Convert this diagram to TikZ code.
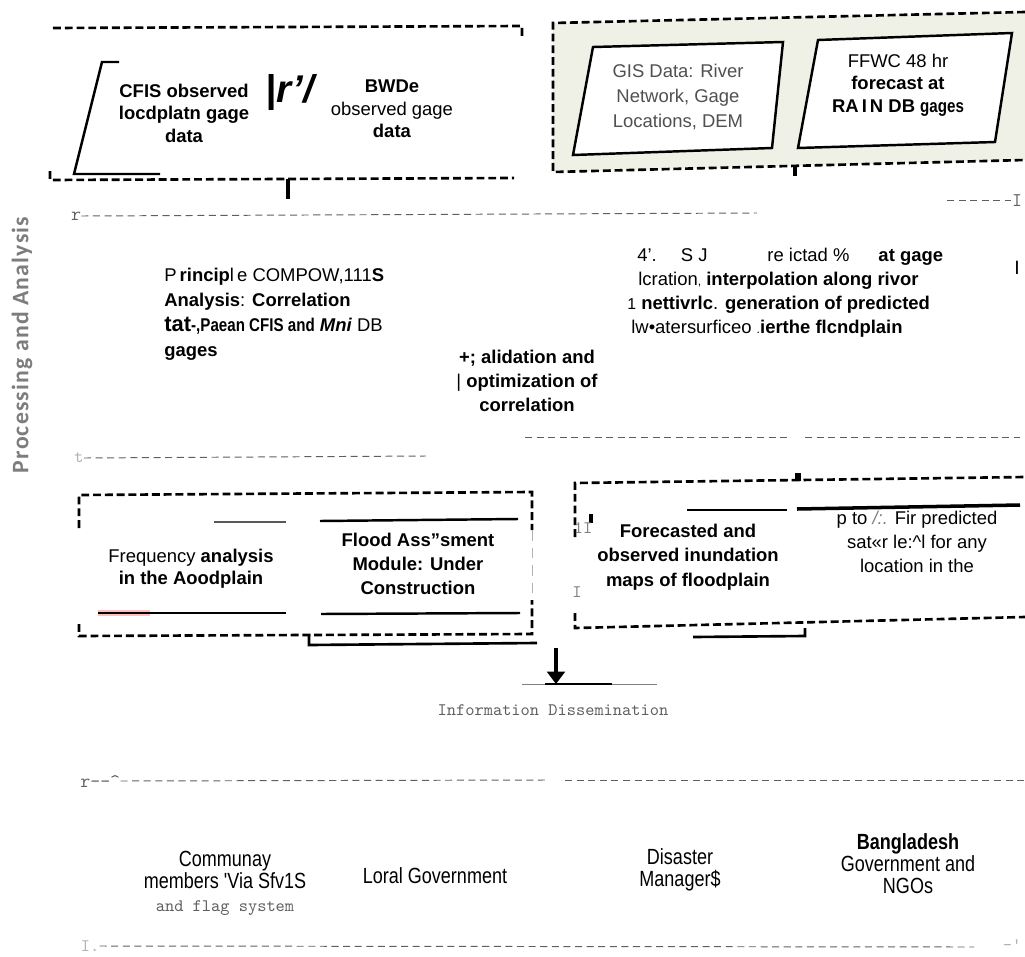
\documentclass[tikz,border=0pt]{standalone}
\usepackage{fontspec}
\setmainfont{Liberation Sans}
\newfontfamily\narrowsf[FakeStretch=0.82]{Liberation Sans}
\newfontfamily\labelsf[LetterSpace=5]{Carlito}
\usetikzlibrary{positioning,calc,arrows.meta}

\definecolor{gisbg}{RGB}{240,241,230}
\definecolor{gistext}{RGB}{80,80,80}
\definecolor{typegray}{RGB}{95,95,95}
\definecolor{sidegray}{RGB}{125,125,125}

\begin{document}
\begin{tikzpicture}[x=0.02cm, y=-0.02cm,
    grpdash/.style={line width=1.5pt, dash pattern=on 4.5pt off 2.2pt},
    typedash/.style={line width=0.55pt, typegray, dash pattern=on 4pt off 2.6pt},
    bar/.style={line width=1.4pt},
    txt/.style={font=\fontsize{10.5}{13.5}\selectfont, align=center, inner sep=0pt},
    boldtxt/.style={font=\bfseries\fontsize{10.5}{13.5}\selectfont, align=center, inner sep=0pt},
    narrowtxt/.style={font=\narrowsf\fontsize{12.5}{12.6}\selectfont, align=center, inner sep=0pt},
    typetxt/.style={font=\ttfamily\fontsize{10}{11}\selectfont, text=typegray, inner sep=0pt}]

\useasboundingbox (0,0) rectangle (1025,957);

% Observed gage data
\draw[grpdash] (53,28) -- (522,26) -- (522,36);
\draw[grpdash] (50,171) -- (50,180) -- (514,178);
\draw[bar] (119,62) -- (102,62) -- (74,174) -- (160,174);
\node[boldtxt, font=\bfseries\fontsize{10.5}{12.8}\selectfont] (cfis) at (184,113) {CFIS observed\\locdplatn gage\\data};
\node[font=\bfseries\itshape\fontsize{22}{22}\selectfont, inner sep=0pt] (glyph) at (290,93) {|r'/};
\node[txt, font=\fontsize{10.5}{12.8}\selectfont] (bwdb) at (392,109) {\textbf{BWDe}\\observed gage\\\textbf{data}};

% GIS and forecast data
\fill[gisbg] (553,23) -- (1025,12) -- (1025,160) -- (553,172) -- cycle;
\draw[grpdash] (1025,12) -- (553,23) -- (553,172) -- (1025,160);
\draw[bar, fill=white] (593,47) -- (783,42) -- (772,148) -- (573,155) -- cycle;
\node[txt, text=gistext, font=\fontsize{10.5}{14}\selectfont] (gis) at (678,97) {GIS Data: River\\Network, Gage\\Locations, DEM};
\draw[bar, fill=white] (818,40) -- (1012,33) -- (995,142) -- (798,148) -- cycle;
\node[txt, font=\fontsize{10.5}{12.8}\selectfont] (ffwc) at (898,85) {FFWC 48 hr\\\textbf{forecast at}\\\textbf{RA\,I\,N DB {\narrowsf gages}}};

% stubs from the input groups
\coordinate (obsout) at (288,179);
\coordinate (obsend) at (288,199);
\draw[line width=2.5pt] (obsout) -- (obsend);
\coordinate (gisout) at (795,166);
\coordinate (gisend) at (795,176);
\draw[line width=2.5pt] (gisout) -- (gisend);

% Processing and Analysis
\node[rotate=90, font=\labelsf\bfseries\fontsize{13.5}{13.5}\selectfont, text=sidegray] (proclabel) at (22,345) {Processing and Analysis};
\node[typetxt, font=\ttfamily\fontsize{11}{11}\selectfont] (procr) at (76,216) {r};
\draw[typedash] (procr.east) -- (757,213);
\draw[typedash] (947,200) -- (1011,200);
\node[typetxt, font=\ttfamily\fontsize{11}{11}\selectfont] (procI) at (1017,201) {I};
\node[typetxt, text=gray!60] (proct) at (79,458) {t};
\draw[typedash] (proct.east) -- (426,456);
\draw[typedash] (525,437) -- (790,437);
\draw[typedash] (805,437) -- (1020,437);

\node[txt, anchor=west, align=left, font=\fontsize{10.5}{14.2}\selectfont] (pca) at (164,314) {P\,\textbf{rincip}l\,e COMPOW,111\textbf{S}\\\textbf{Analysis}: \textbf{Correlation}\\{\fontsize{12.5}{14}\selectfont\bfseries tat}{\narrowsf\bfseries -,Paean CFIS and} \textbf{\textit{Mni}} DB\\\textbf{gages}};
\node[txt, anchor=west, align=left, font=\fontsize{10.5}{13.6}\selectfont] (pred) at (627,293) {\hspace*{0.2cm}4'.\hspace*{0.48cm}S J\hspace*{1.2cm}re ictad \%\hspace*{0.58cm}\textbf{at gage}\\\hspace*{0.22cm}lcration{\scriptsize ,} \textbf{interpolation along rivor}\\{\small 1} \textbf{nettivrlc}. \textbf{generation of predicted}\\\hspace*{0.08cm}lw\textbullet atersurficeo {\scriptsize .}\textbf{ierthe flcndplain}};
\node[boldtxt] (valid) at (527,381) {+; alidation and\\{\mdseries |} optimization of\\correlation};
\node[font=\fontsize{11}{11}\selectfont, inner sep=0pt] (rmark) at (1017,268) {I};

% Assessment modules
\draw[grpdash] (79,528) -- (79,495) -- (532,492) -- (532,530);
\draw[grpdash] (79,624) -- (79,636) -- (532,634) -- (532,600);
\draw[gray!60, line width=0.4pt, dash pattern=on 6pt off 4pt] (532,530) -- (532,600);
\draw[line width=0.8pt, gray!70!black] (214,522) -- (286,522);
\draw[line width=3pt, red!25] (98,613) -- (150,613);
\draw[bar] (98,613) -- (286,613);
\node[txt, font=\fontsize{10.5}{12.6}\selectfont] (freq) at (191,569) {Frequency \textbf{analysis}\\\textbf{in the Aoodplain}};
\draw[bar] (320,521) -- (518,519);
\draw[bar] (321,614) -- (520,613);
\node[boldtxt, font=\bfseries\fontsize{10.5}{13.6}\selectfont] (flood) at (418,564) {Flood Ass"sment\\Module: Under\\Construction};

\draw[grpdash] (575,537) -- (575,483) -- (1025,477);
\draw[grpdash] (575,613) -- (575,628) -- (1025,617);
\draw[line width=3pt] (798,473) -- (798,481);
\draw[line width=0.8pt] (687,510) -- (787,510);
\draw[line width=2pt] (797,509) -- (1020,505);
\draw[line width=2pt] (591,514) -- (591,523);
\node[typetxt, text=gray] (mk1) at (583,528) {1I};
\node[typetxt, text=gray] (mk2) at (577,592) {I};
\node[boldtxt, font=\bfseries\fontsize{10.5}{13.8}\selectfont] (inund) at (688,557) {Forecasted and\\observed inundation\\maps of floodplain};
\node[txt, font=\fontsize{10.5}{13.8}\selectfont] (anyloc) at (917,542) {p to {\color{gray}\itshape /:.} Fir predicted\\sat«r le:\textasciicircum l for any\\location in the};

% outputs to dissemination
\coordinate (modout) at (309,634);
\coordinate (modbar) at (309,645);
\draw[line width=1.5pt] (modout) -- (modbar) -- (537,643);
\coordinate (mapout) at (805,628);
\coordinate (mapbar) at (805,636);
\draw[line width=1.5pt] (mapout) -- (mapbar) -- (693,637);
\coordinate (arrtop) at (556,648);
\coordinate (arrtip) at (556,684);
\draw[line width=2.2pt, -{Triangle[width=10pt,length=7pt]}] (arrtop) -- (arrtip);
\draw[gray, line width=0.5pt] (522,684) -- (657,684);
\draw[bar] (545,684) -- (612,684);
\node[typetxt] (info) at (553,710) {Information Dissemination};

% Information Dissemination
\node[typetxt, font=\ttfamily\fontsize{11}{11}\selectfont, anchor=west] (disr) at (80,781) {r--\textasciicircum};
\draw[typedash] (disr.east) -- (546,780);
\draw[typedash] (565,780) -- (1025,780);
\node[typetxt, text=gray!60] (disl) at (90,946) {I.};
\draw[typedash] (disl.east) -- (974,947);
\node[typetxt, text=gray!60] (disq) at (1012,945) {-'};

\node[narrowtxt] (comm) at (225,870) {Communay\\members 'Via Sfv1S};
\node[typetxt] (flag) at (225,908) {and flag system};
\node[narrowtxt] (loral) at (435,876) {Loral Government};
\node[narrowtxt] (disas) at (680,870) {Disaster\\Manager\$};
\node[narrowtxt] (bdgov) at (908,864) {\textbf{Bangladesh}\\Government and\\NGOs};

\end{tikzpicture}
\end{document}
